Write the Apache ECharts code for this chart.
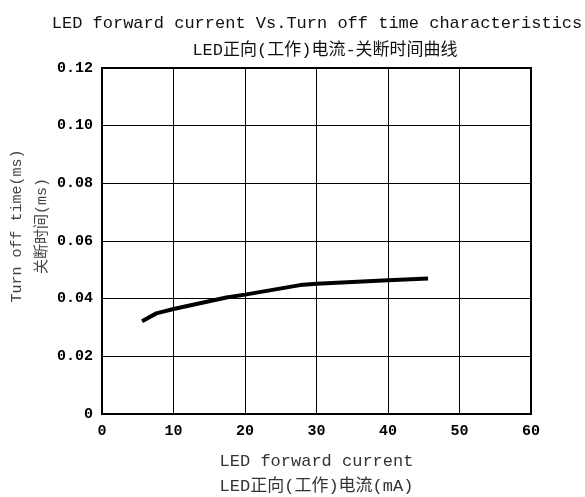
<!DOCTYPE html>
<html>
<head>
<meta charset="utf-8">
<script src="https://cdn.jsdelivr.net/npm/echarts@6/dist/echarts.min.js"></script>
<style>html,body{margin:0;padding:0;background:#fff}#c{width:585px;height:497px}</style>
</head>
<body>
<div id="c"></div>
<script>
const currentMA = [5.6, 7.6, 10, 17.4, 20, 27.7, 30, 40, 45.6];
const turnOffMs = [0.0322, 0.0349, 0.0364, 0.0404, 0.0414, 0.0447, 0.0452, 0.0464, 0.0470];
const titleLines = ['LED forward current Vs.Turn off time characteristics', 'LED正向(工作)电流-关断时间曲线'];
const xNameLines = ['LED forward current', 'LED正向(工作)电流(mA)'];
const yNameLines = ['Turn off time(ms)', '关断时间(ms)'];

const FONT = '"Liberation Mono", "Noto Sans CJK SC", monospace';
const chart = echarts.init(document.getElementById('c'), null, {renderer: 'canvas'});
chart.setOption({
  animation: false,
  backgroundColor: '#fff',
  title: [
    {text: titleLines[0], left: 312, top: 10, textAlign: 'center',
     textStyle: {fontFamily: FONT, fontSize: 17, fontWeight: 'normal', color: '#111'}},
    {text: titleLines[1], left: 320, top: 37, textAlign: 'center',
     textStyle: {fontFamily: FONT, fontSize: 17, fontWeight: 'normal', color: '#111'}}
  ],
  grid: {left: 102, right: 54, top: 68, bottom: 83, show: true, borderColor: '#000', borderWidth: 2,
         containLabel: false, outerBoundsMode: 'none'},
  xAxis: {
    type: 'value', min: 0, max: 60, interval: 10,
    name: xNameLines.join('\n'), nameLocation: 'middle', nameGap: 35,
    nameTextStyle: {fontFamily: FONT, fontSize: 17, color: '#333', lineHeight: 25},
    axisLine: {show: true, lineStyle: {color: '#000', width: 2}},
    axisTick: {show: false},
    axisLabel: {margin: 10, fontFamily: FONT, fontSize: 15, fontWeight: 'bold', color: '#000'},
    splitLine: {show: true, lineStyle: {color: '#000', width: 1}}
  },
  yAxis: {
    type: 'value', min: 0, max: 0.12, interval: 0.02,
    name: yNameLines.join('\n'), nameLocation: 'middle', nameGap: 47, nameMoveOverlap: false,
    nameTextStyle: {fontFamily: FONT, fontSize: 15, color: '#444', lineHeight: 25, padding: [0, 0, 0, 30]},
    axisLine: {show: true, lineStyle: {color: '#000', width: 2}},
    axisTick: {show: false},
    axisLabel: {margin: 9, fontFamily: FONT, fontSize: 15, fontWeight: 'bold', color: '#000',
      formatter: v => v === 0 ? '0' : v.toFixed(2)},
    splitLine: {show: true, lineStyle: {color: '#000', width: 1}}
  },
  series: [{
    type: 'line',
    data: currentMA.map((x, i) => [x, turnOffMs[i]]),
    showSymbol: false,
    smooth: false,
    lineStyle: {color: '#000', width: 4},
    itemStyle: {color: '#000'}
  }]
});
</script>
</body>
</html>
